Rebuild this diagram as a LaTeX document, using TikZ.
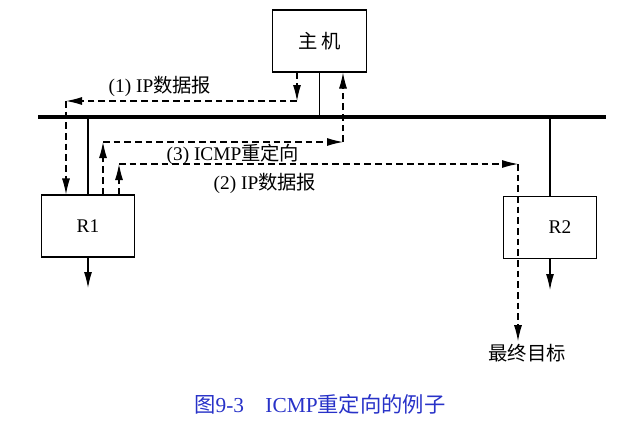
\documentclass[tikz,border=0pt]{standalone}
\usepackage{fontspec}
\setmainfont{Liberation Serif}
\newfontfamily\cjk{Noto Sans CJK SC}
\usetikzlibrary{arrows.meta}
\definecolor{captionblue}{RGB}{40,50,200}

\begin{document}
\begin{tikzpicture}[
      x=0.75pt, y=-0.75pt,
      every node/.style={font=\fontsize{14.5}{17}\selectfont},
      hostbox/.style={draw, thick, minimum width=70pt, minimum height=46.5pt},
      flow/.style={thick, dash pattern=on 5pt off 3pt, -{Latex[length=12pt,width=6pt]}},
      link/.style={thick},
      outlink/.style={thick, -{Latex[length=12pt,width=6pt]}}]
    \useasboundingbox (0,0) rectangle (639,422);

    \node [hostbox] (host) at (319.5, 41) {{\cjk 主\,机}};
    \node [hostbox] (R1)   at ( 88, 226) {R1};
    \node [hostbox] (R2)   at (550, 227.5) {};
    \node (R2lab) at (560, 227) {R2};

    \coordinate (busL) at ( 38, 117);
    \coordinate (busR) at (606, 117);
    \draw [line width=2.4pt] (busL) -- (busR);

    \draw [link] (host.south) -- (host.south |- busL);
    \draw [link] (R1.north) -- (R1.north |- busL);
    \draw [link] (R2.north) -- (R2.north |- busL);

    \coordinate (out1) at ( 88, 288);
    \coordinate (out2) at (550, 290);
    \draw [outlink] (R1.south) -- (out1);
    \draw [outlink] (R2.south) -- (out2);

    % (1) host -> R1
    \coordinate (c1a) at (297, 101);
    \coordinate (c1b) at ( 66, 101);
    \draw [flow] (host.south -| c1a) -- (c1a);
    \draw [flow] (c1a) -- (c1b);
    \draw [flow] (c1b) -- (R1.north -| c1b);

    % (3) R1 -> host
    \coordinate (c3a) at (103, 142);
    \coordinate (c3b) at (343, 142);
    \draw [flow] (R1.north -| c3a) -- (c3a);
    \draw [flow] (c3a) -- (c3b);
    \draw [flow] (c3b) -- (host.south -| c3b);

    % (2) R1 -> destination
    \node [inner sep=2pt] (target) at (527, 353) {{\cjk 最终目标}};
    \coordinate (c2a) at (119, 164);
    \coordinate (c2b) at (518, 164);
    \draw [flow] (R1.north -| c2a) -- (c2a);
    \draw [flow] (c2a) -- (c2b);
    \draw [flow] (c2b) -- (target.north -| c2b);

    \node (lab1) at (160,  86) {(1) IP{\cjk 数据报}};
    \node (lab3) at (233, 154) {(3) ICMP{\cjk 重定向}};
    \node (lab2) at (265, 183) {(2) IP{\cjk 数据报}};

    \node [text=captionblue, font=\fontsize{16}{19}\selectfont] (caption) at (320, 404)
      {{\cjk 图}9-3\hspace{1em}ICMP{\cjk 重定向的例子}};

  \end{tikzpicture}
\end{document}
